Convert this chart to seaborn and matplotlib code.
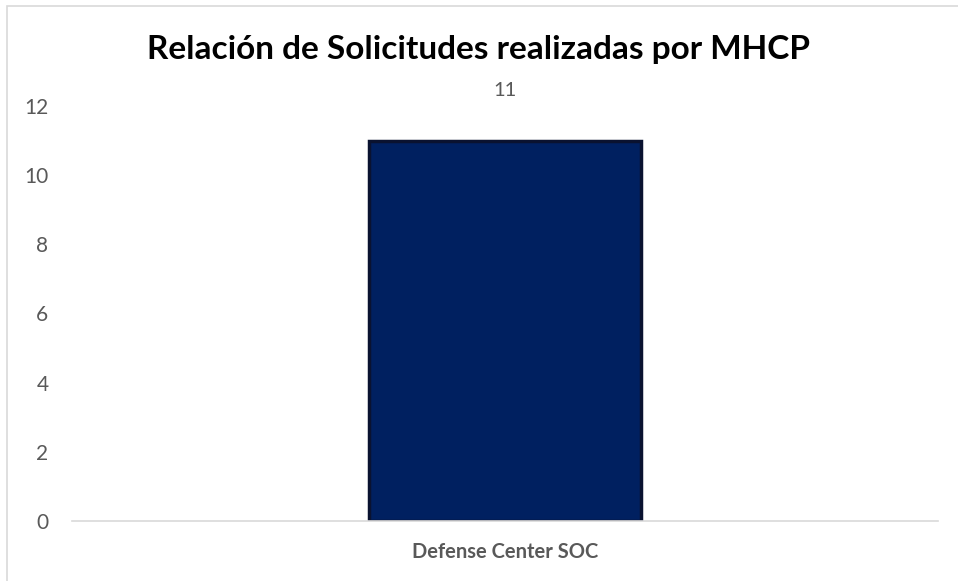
import matplotlib.pyplot as plt
import matplotlib.patches as mpatches
import pandas as pd
import seaborn as sns

## Data ##
categories = ["Defense Center SOC"]
values = [11]
title = "Relación de Solicitudes realizadas por MHCP"

df = pd.DataFrame({"categoria": categories, "valor": values})

sns.set_style("white")
plt.rcParams["font.family"] = ["Lato", "DejaVu Sans"]

fig = plt.figure(figsize=(9.58, 5.81), dpi=100)
ax = fig.add_axes([0.0752, 0.1033, 0.979 - 0.0752, 0.8176 - 0.1033])

sns.barplot(data=df, x="categoria", y="valor", ax=ax, color="#002060",
            width=0.314, edgecolor="#0a1230", linewidth=2.5, saturation=1)

ax.set_xlim(-0.5, 0.5)
ax.set_ylim(0, 12)
ax.set_yticks([0, 2, 4, 6, 8, 10, 12])
ax.set_xlabel("")
ax.set_ylabel("")

## Value labels ##
for cont in ax.containers:
    ax.bar_label(cont, padding=30, fontsize=14.5, color="#595959")

## Axes styling ##
for side in ["top", "right", "left"]:
    ax.spines[side].set_visible(False)
ax.spines["bottom"].set_color("#d9d9d9")
ax.spines["bottom"].set_linewidth(1.2)
ax.tick_params(axis="y", length=0, pad=17, labelsize=15, labelcolor="#595959")
ax.tick_params(axis="x", length=0, pad=15, labelsize=14.5, labelcolor="#595959")
for lbl in ax.get_xticklabels():
    lbl.set_fontweight("bold")

fig.text(0.499, 0.915, title, ha="center", va="center", fontsize=24,
         fontweight="bold", color="black")

## Chart border (top and left only visible) ##
border = mpatches.Rectangle((7 / 958, -0.1), 1.2, 1.1 - 6 / 581, transform=fig.transFigure,
                            fill=False, edgecolor="#d9d9d9", linewidth=1.2)
fig.add_artist(border)

fig.savefig("out.png", dpi=100)
